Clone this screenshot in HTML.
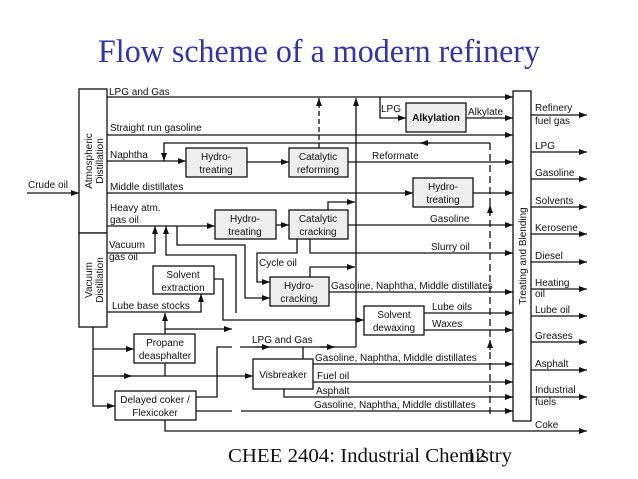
<!DOCTYPE html>
<html><head><meta charset="utf-8"><style>
html,body{margin:0;padding:0;background:#fff;}
svg{display:block}
text{font-family:"Liberation Sans",sans-serif;font-size:10px;fill:#111;}
.t{font-family:"Liberation Serif",serif;}
</style></head><body>
<svg width="638" height="479" viewBox="0 0 638 479" xmlns="http://www.w3.org/2000/svg">
<defs><marker id="a" markerWidth="8" markerHeight="6" refX="8" refY="3" orient="auto" markerUnits="userSpaceOnUse"><path d="M0,0L8,3L0,6z" fill="#111"/></marker></defs>
<text class="t" x="98" y="62" style="fill:#3333aa;font-size:33px" textLength="442" lengthAdjust="spacingAndGlyphs">Flow scheme of a modern refinery</text>
<g stroke="#111" stroke-width="1.3" fill="none">
<rect x="79" y="89" width="28" height="144" fill="#fff"/>
<rect x="79" y="233" width="28" height="94" fill="#fff"/>
<rect x="513" y="91" width="18" height="330" fill="#fff"/>
<line x1="27" y1="193" x2="79" y2="193" marker-end="url(#a)"/>
<rect x="406" y="103" width="60" height="29" fill="#eee"/>
<rect x="186" y="148" width="61" height="29" fill="#eee"/>
<rect x="289" y="148" width="59" height="29" fill="#eee"/>
<rect x="413" y="178" width="60" height="29" fill="#eee"/>
<rect x="215" y="210" width="61" height="29" fill="#eee"/>
<rect x="289" y="210" width="59" height="29" fill="#eee"/>
<rect x="153" y="266" width="61" height="28"/>
<rect x="270" y="277" width="59" height="29" fill="#eee"/>
<rect x="364" y="306" width="60" height="29"/>
<rect x="134" y="334" width="61" height="29"/>
<rect x="253" y="359" width="60" height="30"/>
<rect x="115" y="391" width="81" height="29"/>
<line x1="107" y1="97" x2="513" y2="97" marker-end="url(#a)"/>
<polyline points="380,97 380,118 406,118" marker-end="url(#a)"/>
<line x1="466" y1="118" x2="513" y2="118" marker-end="url(#a)"/>
<line x1="107" y1="135" x2="513" y2="135" marker-end="url(#a)"/>
<polyline points="490,143 164,143 164,161" marker-end="url(#a)"/>
<line x1="420" y1="143" x2="430" y2="143" marker-end="url(#a)" transform="rotate(180 425 143)"/>
<line x1="107" y1="161" x2="186" y2="161" marker-end="url(#a)"/>
<line x1="247" y1="162" x2="289" y2="162" marker-end="url(#a)"/>
<line x1="348" y1="162" x2="513" y2="162" marker-end="url(#a)"/>
<line x1="319" y1="148" x2="319" y2="98" stroke-dasharray="5,3" marker-end="url(#a)"/>
<line x1="356" y1="347" x2="356" y2="98" marker-end="url(#a)"/>
<line x1="490" y1="143" x2="490" y2="415" stroke-dasharray="7,4"/>
<line x1="490" y1="215" x2="490" y2="205" marker-end="url(#a)"/>
<line x1="490" y1="350" x2="490" y2="340" marker-end="url(#a)"/>
<line x1="107" y1="193" x2="413" y2="193" marker-end="url(#a)"/>
<line x1="473" y1="193" x2="513" y2="193" marker-end="url(#a)"/>
<line x1="107" y1="226" x2="215" y2="226" marker-end="url(#a)"/>
<line x1="276" y1="225" x2="289" y2="225" marker-end="url(#a)"/>
<line x1="348" y1="225" x2="513" y2="225" marker-end="url(#a)"/>
<polyline points="328,210 328,202 355,202" marker-end="url(#a)"/>
<polyline points="310,239 310,253 513,253" marker-end="url(#a)"/>
<polyline points="107,253 155,253 155,226" marker-end="url(#a)"/>
<polyline points="236,313 236,255 166,255 166,226" marker-end="url(#a)"/>
<polyline points="177,226 177,245 245,245 245,298 270,298" marker-end="url(#a)"/>
<polyline points="297,239 297,253 257,253 257,282 270,282" marker-end="url(#a)"/>
<polyline points="310,277 310,267 355,267" marker-end="url(#a)"/>
<line x1="329" y1="292" x2="513" y2="292" marker-end="url(#a)"/>
<polyline points="107,312 201,312 201,294" marker-end="url(#a)"/>
<polyline points="214,279 223,279 223,320 364,320" marker-end="url(#a)"/>
<line x1="424" y1="313" x2="513" y2="313" marker-end="url(#a)"/>
<line x1="424" y1="330" x2="513" y2="330" marker-end="url(#a)"/>
<line x1="165" y1="334" x2="165" y2="313" marker-end="url(#a)"/>
<line x1="165" y1="329" x2="232" y2="329" marker-end="url(#a)"/>
<polyline points="93,327 93,406 115,406" marker-end="url(#a)"/>
<line x1="93" y1="349" x2="134" y2="349" marker-end="url(#a)"/>
<line x1="93" y1="376" x2="253" y2="376" marker-end="url(#a)"/>
<line x1="165" y1="363" x2="165" y2="376"/>
<line x1="120" y1="376" x2="132" y2="376" marker-end="url(#a)"/>
<polyline points="196,397 217,397 217,347 232,347"/>
<line x1="240" y1="347" x2="356" y2="347"/>
<line x1="255" y1="347" x2="270" y2="347" marker-end="url(#a)"/>
<line x1="320" y1="347" x2="335" y2="347" marker-end="url(#a)"/>
<line x1="303" y1="359" x2="303" y2="347"/>
<line x1="313" y1="364" x2="513" y2="364" marker-end="url(#a)"/>
<line x1="313" y1="382" x2="513" y2="382" marker-end="url(#a)"/>
<polyline points="284,389 284,397 513,397" marker-end="url(#a)"/>
<line x1="196" y1="411" x2="232" y2="411"/>
<line x1="241" y1="411" x2="513" y2="411" marker-end="url(#a)"/>
<polyline points="165,420 165,431 587,431" marker-end="url(#a)"/>
<line x1="531" y1="115" x2="587" y2="115" marker-end="url(#a)"/>
<line x1="531" y1="152" x2="587" y2="152" marker-end="url(#a)"/>
<line x1="531" y1="179" x2="587" y2="179" marker-end="url(#a)"/>
<line x1="531" y1="207" x2="587" y2="207" marker-end="url(#a)"/>
<line x1="531" y1="234" x2="587" y2="234" marker-end="url(#a)"/>
<line x1="531" y1="262" x2="587" y2="262" marker-end="url(#a)"/>
<line x1="531" y1="289" x2="587" y2="289" marker-end="url(#a)"/>
<line x1="531" y1="316" x2="587" y2="316" marker-end="url(#a)"/>
<line x1="531" y1="342" x2="587" y2="342" marker-end="url(#a)"/>
<line x1="531" y1="370" x2="587" y2="370" marker-end="url(#a)"/>
<line x1="531" y1="397" x2="587" y2="397" marker-end="url(#a)"/>
</g>
<text x="28" y="188">Crude oil</text>
<text transform="translate(92,161) rotate(-90)" text-anchor="middle">Atmospheric</text>
<text transform="translate(103,161) rotate(-90)" text-anchor="middle">Distillation</text>
<text transform="translate(92,280) rotate(-90)" text-anchor="middle">Vacuum</text>
<text transform="translate(103,280) rotate(-90)" text-anchor="middle">Distillation</text>
<text transform="translate(526,256) rotate(-90)" text-anchor="middle">Treating and Blending</text>
<text x="109" y="95">LPG and Gas</text>
<text x="110" y="131">Straight run gasoline</text>
<text x="110" y="158">Naphtha</text>
<text x="110" y="190">Middle distillates</text>
<text x="110" y="211">Heavy atm.</text>
<text x="110" y="223">gas oil</text>
<text x="109" y="248">Vacuum</text>
<text x="109" y="260">gas oil</text>
<text x="112" y="309">Lube base stocks</text>
<text x="381" y="112">LPG</text>
<text x="436" y="121" text-anchor="middle" font-weight="bold">Alkylation</text>
<text x="468" y="115">Alkylate</text>
<text x="216" y="160" text-anchor="middle">Hydro-</text><text x="216" y="173" text-anchor="middle">treating</text>
<text x="318" y="160" text-anchor="middle">Catalytic</text><text x="318" y="173" text-anchor="middle">reforming</text>
<text x="372" y="159">Reformate</text>
<text x="443" y="190" text-anchor="middle">Hydro-</text><text x="443" y="203" text-anchor="middle">treating</text>
<text x="245" y="222" text-anchor="middle">Hydro-</text><text x="245" y="235" text-anchor="middle">treating</text>
<text x="318" y="222" text-anchor="middle">Catalytic</text><text x="318" y="235" text-anchor="middle">cracking</text>
<text x="430" y="222">Gasoline</text>
<text x="431" y="250">Slurry oil</text>
<text x="259" y="266">Cycle oil</text>
<text x="299" y="289" text-anchor="middle">Hydro-</text><text x="299" y="302" text-anchor="middle">cracking</text>
<text x="331" y="289">Gasoline, Naphtha, Middle distillates</text>
<text x="183" y="278" text-anchor="middle">Solvent</text><text x="183" y="291" text-anchor="middle">extraction</text>
<text x="394" y="318" text-anchor="middle">Solvent</text><text x="394" y="331" text-anchor="middle">dewaxing</text>
<text x="432" y="310">Lube oils</text>
<text x="432" y="327">Waxes</text>
<text x="165" y="346" text-anchor="middle">Propane</text><text x="165" y="359" text-anchor="middle">deasphalter</text>
<text x="252" y="343">LPG and Gas</text>
<text x="283" y="378" text-anchor="middle">Visbreaker</text>
<text x="315" y="361">Gasoline, Naphtha, Middle distillates</text>
<text x="317" y="379">Fuel oil</text>
<text x="316" y="394">Asphalt</text>
<text x="314" y="408">Gasoline, Naphtha, Middle distillates</text>
<text x="155" y="403" text-anchor="middle">Delayed coker /</text><text x="155" y="416" text-anchor="middle">Flexicoker</text>
<text x="535" y="111">Refinery</text><text x="535" y="124">fuel gas</text>
<text x="535" y="149">LPG</text>
<text x="535" y="176">Gasoline</text>
<text x="535" y="204">Solvents</text>
<text x="535" y="231">Kerosene</text>
<text x="535" y="259">Diesel</text>
<text x="535" y="286">Heating</text><text x="535" y="297">oil</text>
<text x="535" y="313">Lube oil</text>
<text x="535" y="339">Greases</text>
<text x="535" y="367">Asphalt</text>
<text x="535" y="393">Industrial</text><text x="535" y="405">fuels</text>
<text x="535" y="428">Coke</text>
<text class="t" x="228" y="462" style="font-size:20px" textLength="284" lengthAdjust="spacingAndGlyphs">CHEE 2404: Industrial Chemistry</text>
<text class="t" x="466" y="462" style="font-size:20px">12</text>
</svg>
</body></html>
